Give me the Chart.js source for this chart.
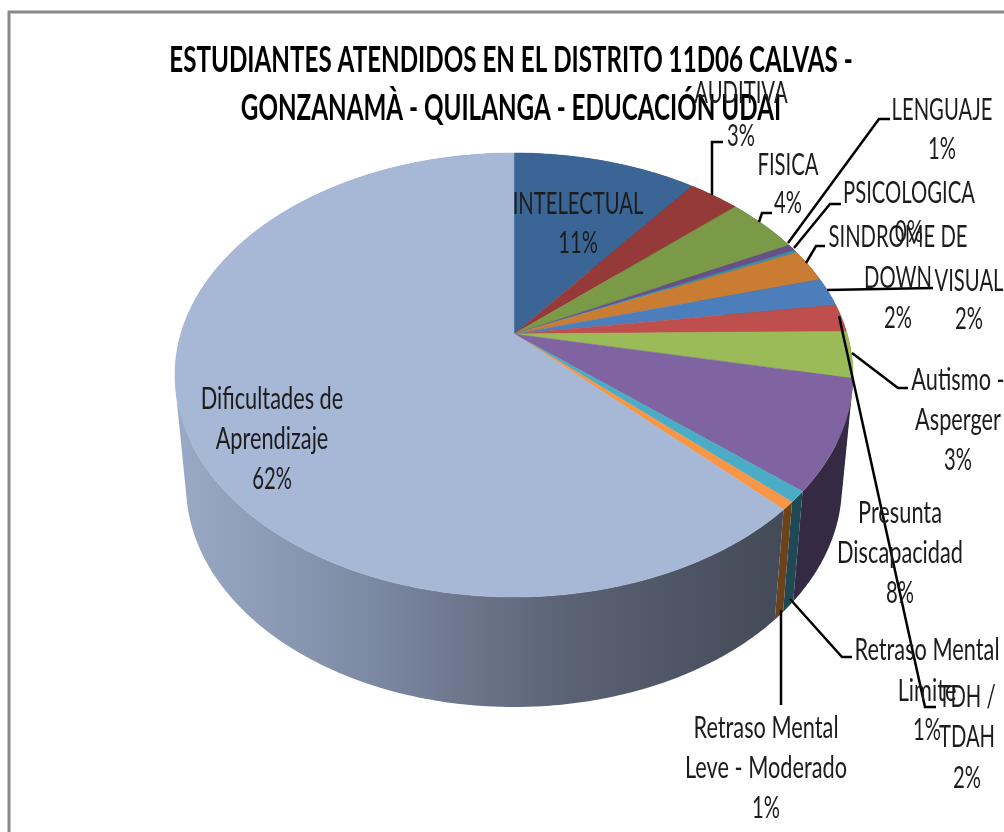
<!DOCTYPE html>
<html>
<head>
<meta charset="utf-8">
<script src="https://cdn.jsdelivr.net/npm/chart.js@4"></script>
<style>html,body{margin:0;padding:0;background:#fff}canvas{display:block}</style>
</head>
<body>
<canvas id="c" width="1004" height="832"></canvas>
<script>
const categories = ["INTELECTUAL","AUDITIVA","FISICA","LENGUAJE","PSICOLOGICA","SINDROME DE DOWN","VISUAL","TDH / TDAH","Autismo - Asperger","Presunta Discapacidad","Retraso Mental Limite","Retraso Mental Leve - Moderado","Dificultades de Aprendizaje"];
const values = [10.5,2.9,4.2,0.5,0.2,2.4,2.1,2.0,3.4,8.0,0.8,0.6,62.4];
const topColors = ["#3B6595","#953A39","#7B9A48","#67508A","#3A8FA6","#CB7C33","#4C7EBB","#BE4F4C","#9BBB59","#8064A2","#4BACC6","#F79646","#A7B7D6"];
const sideColors = ["#1f3550","#4f1f1e","#415226","#352A44","#1F4A55","#6B421A","#294466","#652a28","#53632f","#352A44","#1F4A55","#6B421A","#8896B0"];
const titleLines = ["ESTUDIANTES ATENDIDOS EN EL DISTRITO 11D06 CALVAS -","GONZANAMÀ - QUILANGA - EDUCACIÓN UDAI"];

// Visual layout of the drawing (not data)
const TOP = {cx:514, cy:375, rx:339, ry:222};
const BOT = {cx:514, cy:485, rx:328, ry:222};
const PERSP = -0.185;
const labelLines = [["INTELECTUAL"],["AUDITIVA"],["FISICA"],["LENGUAJE"],["PSICOLOGICA"],["SINDROME DE","DOWN"],["VISUAL"],["TDH /","TDAH"],["Autismo -","Asperger"],["Presunta","Discapacidad"],["Retraso Mental","Limite"],["Retraso Mental","Leve - Moderado"],["Dificultades de","Aprendizaje"]];
const labelPos = [[578,[204,243]],[741,[93,136]],[788,[165,203]],[942,[110,149]],[909,[193,232]],[898,[237,278,318]],[969,[281,319]],[967,[697,737,778]],[958,[380,420,460]],[900,[513,553,593]],[927,[650,691,730]],[766,[728,768,808]],[272,[399,439,479]]];
const leaders = [null,[[712,195],[712,142],[723,142]],[[759,222],[762,213],[772,213]],[[788,243],[879,119],[890,119]],[[794,248],[830,204],[841,204]],[[806,263],[816,246],[825,246]],[[827,290],[933,288]],[[839,316],[925,707],[936,707]],[[852,353],[898,388],[908,388]],null,[[790,599],[842,657],[852,657]],[[781,610],[781,705]],null];

function project(e, a){
  const x = Math.sin(a), y = -Math.cos(a), c = PERSP;
  const d = 1 + c*y;
  return [e.cx + e.rx*x*Math.sqrt(1-c*c)/d, e.cy + e.ry*(y+c)/d];
}
function apex(e){ return [e.cx, e.cy + e.ry*PERSP]; }
function arcPts(e,a0,a1){
  const n = Math.max(2, Math.ceil((a1-a0)/0.01)), p=[];
  for(let i=0;i<=n;i++) p.push(project(e,a0+(a1-a0)*i/n));
  return p;
}
function text(ctx,s,cx,cy,size,weight,sx,color){
  ctx.save();
  ctx.translate(cx,cy);
  ctx.scale(sx,1);
  ctx.font = weight+" "+size+"px Lato";
  ctx.textAlign="center"; ctx.textBaseline="middle";
  ctx.fillStyle=color;
  ctx.fillText(s,0,0);
  ctx.restore();
}
const pie3d = {
  id:"pie3d",
  beforeDatasetsDraw(chart){
    const ctx = chart.ctx, arcs = chart.getDatasetMeta(0).data;
    const ang = arcs.map(el=>[el.startAngle+Math.PI/2, el.endAngle+Math.PI/2]);
    // side wall: thin quads, same winding, filled as one path (no seams)
    arcs.forEach((el,i)=>{
      const t = arcPts(TOP,ang[i][0],ang[i][1]), b = arcPts(BOT,ang[i][0],ang[i][1]);
      let fill = sideColors[i];
      if(i===arcs.length-1){
        const g = ctx.createLinearGradient(175,0,780,0);
        g.addColorStop(0,"#9AAAC6"); g.addColorStop(0.3,"#7F8CA6"); g.addColorStop(0.65,"#5A6274"); g.addColorStop(1,"#434B58");
        fill = g;
      }
      ctx.fillStyle = fill;
      ctx.beginPath();
      for(let k=0;k<t.length-1;k++){
        let q = [t[k],t[k+1],b[k+1],b[k]], area = 0;
        q.forEach((p,j)=>{const r=q[(j+1)%4]; area += p[0]*r[1]-r[0]*p[1];});
        if(area<0) q.reverse();
        q.forEach((p,j)=>j?ctx.lineTo(p[0],p[1]):ctx.moveTo(p[0],p[1]));
        ctx.closePath();
      }
      ctx.fill();
    });
    // top face
    arcs.forEach((el,i)=>{
      const t = arcPts(TOP,ang[i][0],ang[i][1]), a = apex(TOP);
      ctx.beginPath(); ctx.moveTo(a[0],a[1]);
      t.forEach(p=>ctx.lineTo(p[0],p[1]));
      ctx.closePath();
      ctx.fillStyle = el.options.backgroundColor;
      ctx.strokeStyle = el.options.backgroundColor; ctx.lineWidth=0.5;
      ctx.fill(); ctx.stroke();
    });
    return false;
  },
  afterDraw(chart){
    const ctx = chart.ctx;
    // frame
    ctx.save();
    ctx.strokeStyle="#8A8A8A"; ctx.lineWidth=3;
    ctx.beginPath(); ctx.moveTo(9,832); ctx.lineTo(9,12); ctx.lineTo(1004,12); ctx.stroke();
    ctx.restore();
    // title
    const tt = chart.options.plugins.title.text;
    text(ctx,tt[0],511,60,36,"bold",0.672,"#000");
    text(ctx,tt[1],511,108,36,"bold",0.672,"#000");
    // leaders
    ctx.save();
    ctx.strokeStyle="#000"; ctx.lineWidth=2.5; ctx.lineJoin="miter";
    leaders.forEach(l=>{ if(!l) return;
      ctx.beginPath();
      l.forEach((p,k)=>k?ctx.lineTo(p[0],p[1]):ctx.moveTo(p[0],p[1]));
      ctx.stroke();
    });
    ctx.restore();
    // labels
    const total = values.reduce((a,b)=>a+b,0);
    categories.forEach((c,i)=>{
      const lines = labelLines[i].concat([Math.round(values[i]/total*100)+"%"]);
      const pos = labelPos[i];
      lines.forEach((s,k)=>{
        const sx = /[a-z]/.test(s) ? 0.725 : 0.675;
        text(ctx,s,pos[0],pos[1][k],30,"normal",sx,"#1c1c1c");
      });
    });
  }
};
new Chart(document.getElementById("c"),{
  type:"pie",
  data:{labels:categories,datasets:[{data:values,backgroundColor:topColors,borderWidth:0}]},
  options:{
    responsive:false,animation:false,
    plugins:{legend:{display:false},tooltip:{enabled:false},title:{display:false,text:titleLines}}
  },
  plugins:[pie3d]
});
</script>
</body>
</html>
